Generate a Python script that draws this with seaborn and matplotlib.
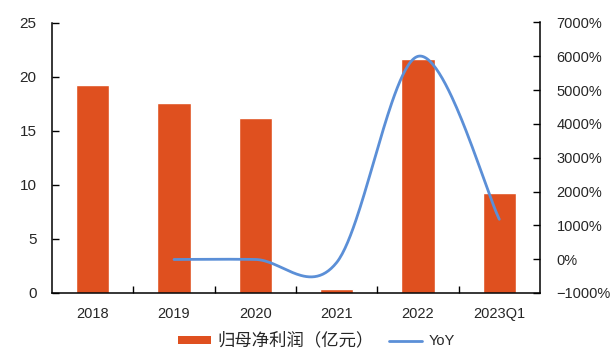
import numpy as np
import pandas as pd
import matplotlib
matplotlib.use("Agg")
import matplotlib.pyplot as plt
import seaborn as sns
from matplotlib.ticker import FixedLocator, FuncFormatter, MultipleLocator
from matplotlib.lines import Line2D
from matplotlib.patches import Patch

# Net profit attributable to parent (100 million CNY) and year-on-year growth (%)
periods = ["2018", "2019", "2020", "2021", "2022", "2023Q1"]
net_profit = [19.25, 17.53, 16.15, 0.4, 21.6, 9.2]
yoy_periods = ["2019", "2020", "2021", "2022", "2023Q1"]
yoy_pct = [-8.9, -7.9, -97.8, 6000.0, 1180.0]

bar_label = "归母净利润（亿元）"
line_label = "YoY"

BAR_COLOR = "#DF501F"
LINE_COLOR = "#5B8FD7"
TEXT_COLOR = "#262626"


def smooth_curve(xs, ys, n=60):
    """Bezier-smoothed polyline through the given knots (Catmull-Rom style)."""
    pts = np.column_stack([xs, ys]).astype(float)
    out = []
    for i in range(len(pts) - 1):
        p0 = pts[i - 1] if i > 0 else pts[i]
        p1 = pts[i]
        p2 = pts[i + 1]
        p3 = pts[i + 2] if i + 2 < len(pts) else pts[i + 1]
        c1 = p1 + (p2 - p0) / 6.0
        c2 = p2 - (p3 - p1) / 6.0
        t = np.linspace(0, 1, n)[:, None]
        seg = ((1 - t) ** 3) * p1 + 3 * ((1 - t) ** 2) * t * c1 + 3 * (1 - t) * t ** 2 * c2 + t ** 3 * p2
        out.append(seg if i == 0 else seg[1:])
    curve = np.vstack(out)
    return curve[:, 0], curve[:, 1]


sns.set_theme(style="white")
plt.rcParams["font.family"] = ["Liberation Sans", "Noto Sans CJK SC", "DejaVu Sans"]
plt.rcParams["axes.unicode_minus"] = True

W, H = 611, 354
fig = plt.figure(figsize=(W / 100, H / 100), dpi=100)
left, right, top, bottom = 52, 540, 22.5, 293
ax = fig.add_axes([left / W, 1 - bottom / H, (right - left) / W, (bottom - top) / H])

df = pd.DataFrame({"period": periods, "profit": net_profit})
sns.barplot(data=df, x="period", y="profit", color=BAR_COLOR, saturation=1,
            width=0.41, ax=ax, zorder=2)

ax.set_xlim(-0.5, len(periods) - 0.5)
ax.set_ylim(0, 25)
ax.yaxis.set_major_locator(MultipleLocator(5))
ax.set_xlabel("")
ax.set_ylabel("")

# twin axis for growth rate
ax2 = ax.twinx()
xs = [periods.index(p) for p in yoy_periods]
cx, cy = smooth_curve(xs, yoy_pct)
sns.lineplot(x=cx, y=cy, sort=False, estimator=None, color=LINE_COLOR,
             linewidth=2.0, ax=ax2, zorder=3)
ax2.set_ylim(-1000, 7000)
ax2.yaxis.set_major_locator(MultipleLocator(1000))
ax2.yaxis.set_major_formatter(FuncFormatter(lambda v, _: f"{v:.0f}%".replace("-", "\u2212")))

# spines
for a in (ax, ax2):
    for s in a.spines.values():
        s.set_visible(False)
ax.spines["left"].set_visible(True)
ax.spines["bottom"].set_visible(True)
ax2.spines["right"].set_visible(True)
for a, names in ((ax, ("left", "bottom")), (ax2, ("right",))):
    for n in names:
        a.spines[n].set_color("black")
        a.spines[n].set_linewidth(1.1)

# ticks
ax.tick_params(axis="y", direction="in", length=5, width=1.0, color="black",
               labelsize=11, labelcolor=TEXT_COLOR, pad=11, left=True)
ax2.tick_params(axis="y", direction="in", length=5, width=1.0, color="black",
                labelsize=10.5, labelcolor=TEXT_COLOR, pad=12, right=True)
ax.xaxis.set_minor_locator(FixedLocator(np.arange(0.5, len(periods) - 1, 1.0)))
ax.tick_params(axis="x", which="major", length=0, labelsize=10.5,
               labelcolor=TEXT_COLOR, pad=10)
ax.tick_params(axis="x", which="minor", direction="in", length=5, width=1.0,
               color="black", bottom=True)

ax.grid(False)
ax2.grid(False)

handles = [Patch(facecolor=BAR_COLOR, edgecolor="none"),
           Line2D([0], [0], color=LINE_COLOR, linewidth=2.0)]
leg = fig.legend(handles, [bar_label, line_label], loc="center",
                 bbox_to_anchor=(0.518, 0.04), ncol=2, frameon=False,
                 fontsize=10.5, handlelength=2.3, handleheight=0.5,
                 columnspacing=1.0, handletextpad=0.45)
for t in leg.get_texts():
    t.set_color(TEXT_COLOR)
leg.get_texts()[0].set_fontsize(12.5)

fig.savefig("out.png", dpi=100)
